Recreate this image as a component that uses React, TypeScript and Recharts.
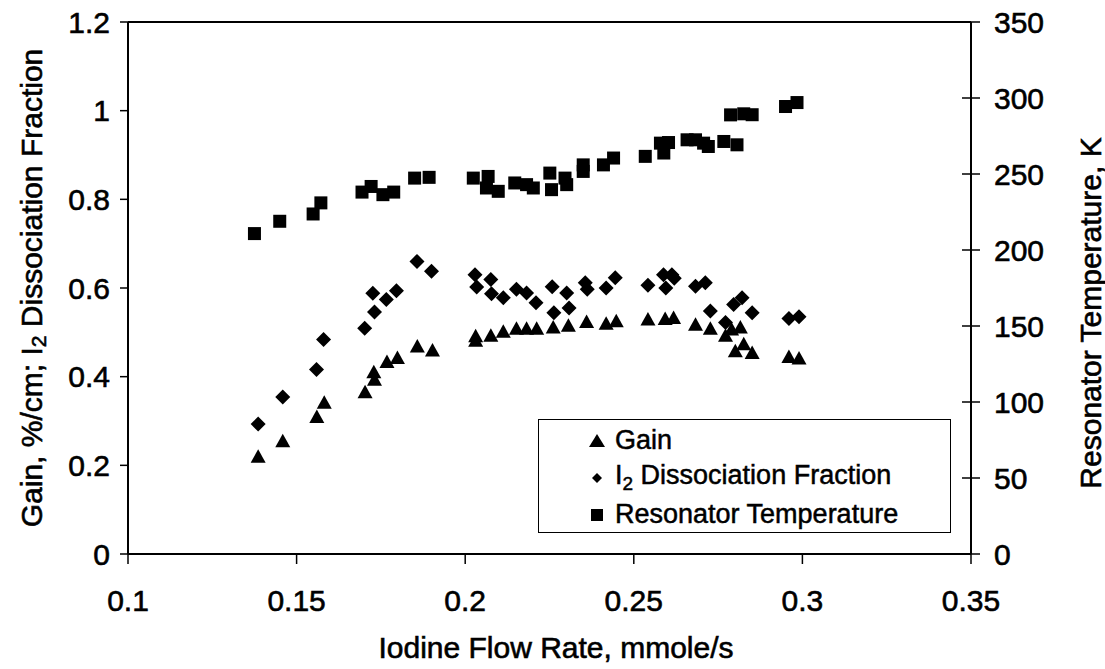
import React from "react";
import {
  ScatterChart,
  Scatter,
  XAxis,
  YAxis,
  ReferenceLine,
  Legend,
  Label,
} from "recharts";

// iodine flow rate (mmole/s) and gain (%/cm)
const gainFlow = [0.1386, 0.1459, 0.156, 0.1582, 0.1703, 0.1729, 0.1731, 0.1768, 0.1799, 0.1858, 0.1903, 0.2031, 0.2031, 0.2076, 0.2113, 0.2152, 0.2182, 0.2212, 0.2261, 0.2306, 0.236, 0.2418, 0.2448, 0.2542, 0.2593, 0.2618, 0.2683, 0.2727, 0.2772, 0.279, 0.2816, 0.2801, 0.2826, 0.2851, 0.296, 0.299];
const gainValue = [0.218, 0.253, 0.308, 0.34, 0.364, 0.409, 0.392, 0.432, 0.441, 0.467, 0.458, 0.48, 0.49, 0.491, 0.5, 0.507, 0.507, 0.507, 0.51, 0.514, 0.522, 0.518, 0.524, 0.528, 0.529, 0.531, 0.516, 0.507, 0.491, 0.505, 0.51, 0.456, 0.472, 0.452, 0.443, 0.44];

// I2 dissociation fraction
const dissFlow = [0.1386, 0.1459, 0.1559, 0.158, 0.1702, 0.1731, 0.1726, 0.1766, 0.1796, 0.1857, 0.19, 0.2029, 0.2034, 0.2076, 0.2078, 0.2113, 0.2152, 0.2182, 0.221, 0.2258, 0.2263, 0.2301, 0.2308, 0.2356, 0.2362, 0.2418, 0.2445, 0.2542, 0.2588, 0.2595, 0.2613, 0.262, 0.2683, 0.2712, 0.2727, 0.2772, 0.2796, 0.2821, 0.2851, 0.296, 0.299];
const dissValue = [0.293, 0.354, 0.416, 0.484, 0.509, 0.546, 0.588, 0.574, 0.594, 0.66, 0.638, 0.63, 0.602, 0.619, 0.587, 0.578, 0.597, 0.589, 0.567, 0.603, 0.544, 0.589, 0.555, 0.612, 0.597, 0.6, 0.623, 0.606, 0.63, 0.6, 0.63, 0.622, 0.604, 0.612, 0.548, 0.522, 0.563, 0.578, 0.544, 0.531, 0.535];

// resonator temperature (K), right axis
const tempFlow = [0.1375, 0.145, 0.1549, 0.1572, 0.1694, 0.1721, 0.1756, 0.1788, 0.185, 0.1893, 0.2024, 0.2068, 0.2063, 0.2098, 0.2147, 0.2182, 0.2202, 0.2251, 0.2256, 0.2296, 0.2301, 0.235, 0.235, 0.241, 0.244, 0.2534, 0.2579, 0.2589, 0.2603, 0.2658, 0.2683, 0.2707, 0.2721, 0.2767, 0.2806, 0.2787, 0.2826, 0.2851, 0.295, 0.2984];
const tempValue = [210.8, 218.9, 223.7, 231.0, 238.1, 241.8, 236.4, 238.1, 247.3, 247.8, 247.3, 248.4, 240.8, 238.6, 244.1, 243.0, 240.8, 250.6, 239.7, 247.3, 243.0, 256.0, 251.7, 256.0, 260.5, 261.6, 270.3, 263.8, 270.7, 272.5, 272.5, 270.3, 268.1, 271.4, 269.2, 288.9, 289.6, 289.0, 294.4, 297.0];

const xTicks = [0.1, 0.15, 0.2, 0.25, 0.3, 0.35];
const leftTicks = [0, 0.2, 0.4, 0.6, 0.8, 1, 1.2];
const rightTicks = [0, 50, 100, 150, 200, 250, 300, 350];

const gainData = gainFlow.map((x, i) => ({ x, y: gainValue[i] }));
const dissData = dissFlow.map((x, i) => ({ x, y: dissValue[i] }));
const tempData = tempFlow.map((x, i) => ({ x, y: tempValue[i] }));

const FONT = "'Liberation Sans', Arial, sans-serif";
// scanned original looks a bit heavy, thicken glyphs slightly
const INK = { fill: "#000", stroke: "#000", strokeWidth: 0.6, fontFamily: FONT };

const Triangle = ({ cx, cy }: any) => (
  <polygon points={`${cx},${cy - 8} ${cx - 7.5},${cy + 5.5} ${cx + 7.5},${cy + 5.5}`} fill="#000" />
);
const Diamond = ({ cx, cy }: any) => (
  <polygon points={`${cx},${cy - 7.5} ${cx + 7.5},${cy} ${cx},${cy + 7.5} ${cx - 7.5},${cy}`} fill="#000" />
);
const Square = ({ cx, cy }: any) => <rect x={cx - 6.5} y={cy - 6.5} width={13} height={13} fill="#000" />;

const RightTick = ({ x, y, payload }: any) => (
  <g>
    <line x1={x - 9} x2={x + 9} y1={y} y2={y} stroke="#000" strokeWidth={1.5} />
    <text x={x + 23} y={y} dy="0.355em" textAnchor="start" fontSize={30} {...INK}>
      {payload.value}
    </text>
  </g>
);

const fmt = (v: number) => String(+v.toFixed(2));

const LegendBox = () => {
  const row = (icon: React.ReactNode, text: React.ReactNode) => (
    <div style={{ display: "flex", alignItems: "center", height: 37 }}>
      <svg width={24} height={20} style={{ marginRight: 6 }}>
        {icon}
      </svg>
      <span>{text}</span>
    </div>
  );
  return (
    <div
      style={{
        border: "1.5px solid #000",
        background: "#fff",
        boxSizing: "border-box",
        width: 413,
        height: 114,
        padding: "2px 0 0 46px",
        fontFamily: FONT,
        fontSize: 27,
        color: "#000",
        lineHeight: 1,
        WebkitTextStroke: "0.5px #000",
      }}
    >
      {row(<polygon points="12,3 4,16 20,16" fill="#000" />, "Gain")}
      {row(
        <polygon points="12,5 17,10 12,15 7,10" fill="#000" />,
        <>
          I<sub style={{ fontSize: 19, verticalAlign: -6 }}>2</sub> Dissociation Fraction
        </>
      )}
      {row(<rect x={6} y={4} width={12} height={12} fill="#000" />, "Resonator Temperature")}
    </div>
  );
};

export default function App() {
  return (
    <div style={{ width: 1105, height: 669, background: "#fff", fontFamily: FONT }}>
      <style>{`body{margin:0}`}</style>
      <ScatterChart width={1105} height={669} margin={{ top: 22, right: 0, bottom: 0, left: 0 }}>
        <XAxis
          type="number"
          dataKey="x"
          domain={[0.1, 0.35]}
          ticks={xTicks}
          tickFormatter={fmt}
          height={115}
          axisLine={{ stroke: "#000", strokeWidth: 2 }}
          tickLine={{ stroke: "#000", strokeWidth: 1.5 }}
          tickSize={10}
          tickMargin={26}
          tick={{ fontSize: 30, ...INK }}
          allowDataOverflow
        >
          <Label
            content={() => (
              <text x={556} y={658} textAnchor="middle" fontSize={30} {...INK}>
                Iodine Flow Rate, mmole/s
              </text>
            )}
          />
        </XAxis>
        <YAxis
          yAxisId="left"
          type="number"
          dataKey="y"
          domain={[0, 1.2]}
          ticks={leftTicks}
          tickFormatter={fmt}
          width={128}
          axisLine={{ stroke: "#000", strokeWidth: 2 }}
          tickLine={{ stroke: "#000", strokeWidth: 1.5 }}
          tickSize={8}
          tickMargin={10}
          tick={{ fontSize: 30, ...INK }}
        >
          <Label
            content={() => (
              <text
                x={31}
                y={288}
                transform="rotate(-90 31 288)"
                textAnchor="middle"
                dominantBaseline="central"
                fontSize={30}
                {...INK}
              >
                Gain, %/cm; I
                <tspan fontSize={21} dy={7}>2</tspan>
                <tspan dy={-7}> Dissociation Fraction</tspan>
              </text>
            )}
          />
        </YAxis>
        <YAxis
          yAxisId="right"
          orientation="right"
          type="number"
          dataKey="y"
          domain={[0, 350]}
          ticks={rightTicks}
          width={134}
          axisLine={{ stroke: "#000", strokeWidth: 2 }}
          tickLine={false}
          tickSize={0}
          tickMargin={0}
          tick={<RightTick />}
        >
          <Label
            content={() => (
              <text
                x={1090}
                y={313}
                transform="rotate(-90 1090 313)"
                textAnchor="middle"
                dominantBaseline="central"
                fontSize={30}
                {...INK}
              >
                Resonator Temperature, K
              </text>
            )}
          />
        </YAxis>
        <ReferenceLine yAxisId="left" y={1.2} stroke="#000" strokeWidth={2} />
        <Scatter name="Gain" yAxisId="left" data={gainData} shape={<Triangle />} isAnimationActive={false} />
        <Scatter name="I2 Dissociation Fraction" yAxisId="left" data={dissData} shape={<Diamond />} isAnimationActive={false} />
        <Scatter name="Resonator Temperature" yAxisId="right" data={tempData} shape={<Square />} isAnimationActive={false} />
        <Legend
          layout="vertical"
          align="center"
          verticalAlign="middle"
          content={<LegendBox />}
          wrapperStyle={{ left: 538, top: 419, width: 413, height: 114 }}
        />
      </ScatterChart>
    </div>
  );
}
